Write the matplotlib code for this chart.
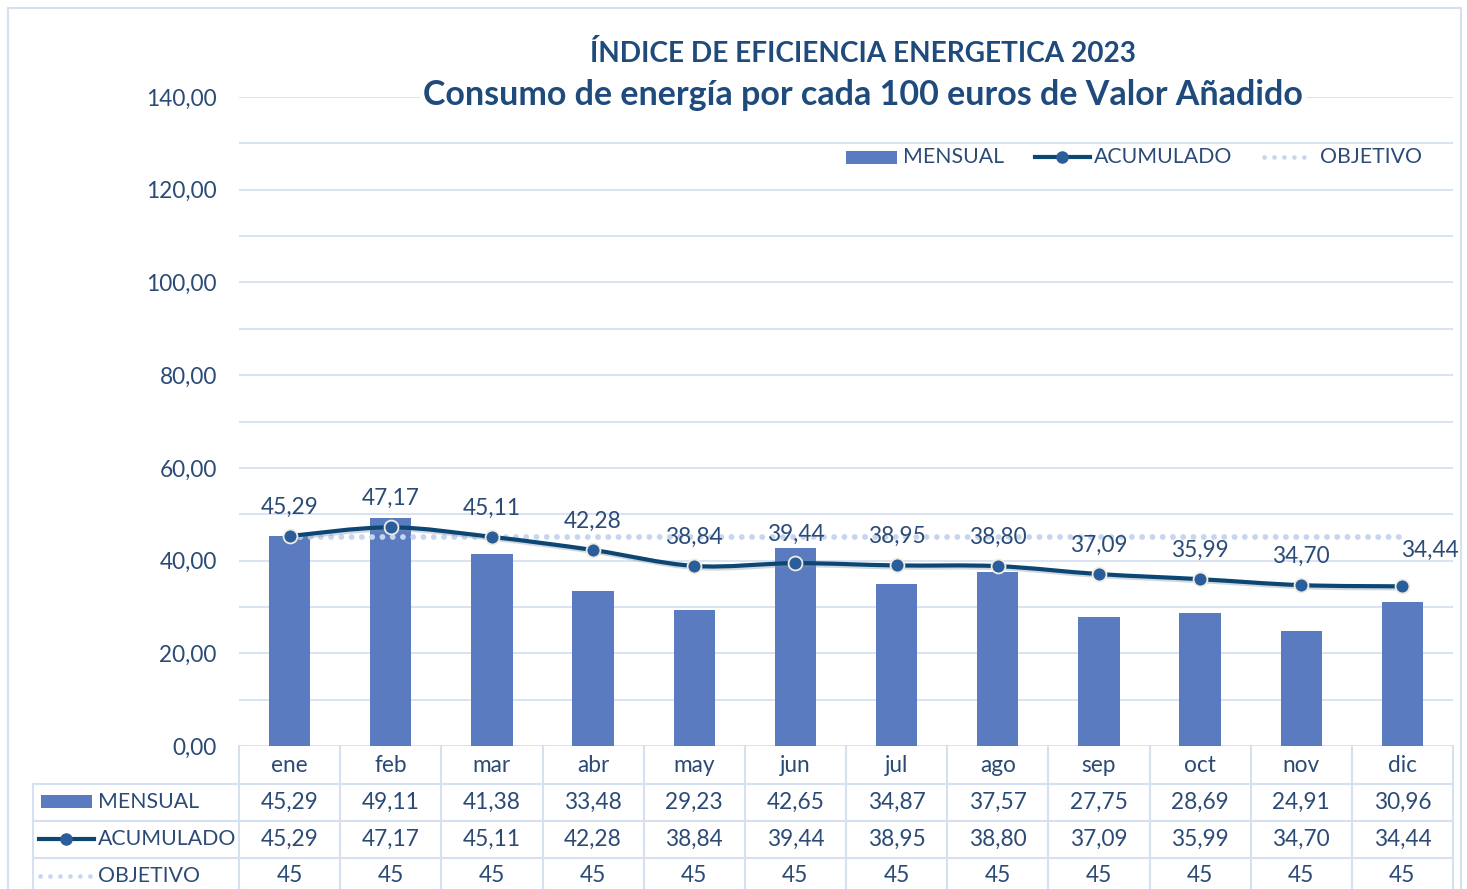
import matplotlib
matplotlib.use("Agg")
import matplotlib.pyplot as plt
from matplotlib.path import Path
from matplotlib.patches import PathPatch, Rectangle
from matplotlib.lines import Line2D
import matplotlib.transforms as mtrans
import matplotlib.patheffects as pe

plt.rcParams['font.family'] = ['Lato', 'DejaVu Sans']

categories = ['ene', 'feb', 'mar', 'abr', 'may', 'jun', 'jul', 'ago', 'sep', 'oct', 'nov', 'dic']
mensual = [45.29, 49.11, 41.38, 33.48, 29.23, 42.65, 34.87, 37.57, 27.75, 28.69, 24.91, 30.96]
acumulado = [45.29, 47.17, 45.11, 42.28, 38.84, 39.44, 38.95, 38.80, 37.09, 35.99, 34.70, 34.44]
objetivo = [45] * 12
yticks = [0, 20, 40, 60, 80, 100, 120, 140]
title1 = 'ÍNDICE DE EFICIENCIA ENERGETICA 2023'
title2 = 'Consumo de energía por cada 100 euros de Valor Añadido'
series_names = ['MENSUAL', 'ACUMULADO', 'OBJETIVO']

W, H = 1467, 889
BAR_C = '#5B7BC0'
LINE_C = '#0C4774'
MARK_C = '#2A5D9C'
OBJ_C = '#C6D6EE'
GRID_C = '#D5E0F1'
TXT_C = '#2B4B76'
TITLE_C = '#1F4A7C'
NUM_FS = 16.3

def fmt(v):
    return f'{v:.2f}'.replace('.', ',')

fig = plt.figure(figsize=(W / 100, H / 100), dpi=100)
fig.patch.set_facecolor('white')

def fx(px):
    return px / W

def fy(py):
    return 1 - py / H

x0, x1, ytop, ybot = 239, 1453, 97, 746
ax = fig.add_axes([fx(x0), fy(ybot), fx(x1) - fx(x0), fy(ytop) - fy(ybot)])
n = len(categories)
xs = list(range(n))
ax.set_xlim(-0.5, n - 0.5)
ax.set_ylim(0, 140)
for s in ax.spines.values():
    s.set_visible(False)
ax.set_xticks([])
ax.set_yticks(yticks)
ax.set_yticklabels([fmt(v) for v in yticks], color=TXT_C, fontsize=NUM_FS)
ax.tick_params(axis='y', length=0, pad=16)
for g in range(0, 141, 10):
    ax.axhline(g, color=GRID_C, lw=1.3, zorder=0)

ax.bar(xs, mensual, width=0.41, color=BAR_C, zorder=2)
ax.plot(xs, objetivo, color=OBJ_C, lw=4.2, ls=(0, (0.01, 1.75)),
        dash_capstyle='round', zorder=3)

# smooth line for ACUMULADO (Bezier through data points)
pts = list(zip(xs, acumulado))
verts = [pts[0]]
codes = [Path.MOVETO]
for i in range(n - 1):
    p0 = pts[i - 1] if i > 0 else pts[i]
    p1 = pts[i]
    p2 = pts[i + 1]
    p3 = pts[i + 2] if i + 2 < n else pts[i + 1]
    c1 = (p1[0] + (p2[0] - p0[0]) / 6, p1[1] + (p2[1] - p0[1]) / 6)
    c2 = (p2[0] - (p3[0] - p1[0]) / 6, p2[1] - (p3[1] - p1[1]) / 6)
    verts += [c1, c2, p2]
    codes += [Path.CURVE4] * 3
ax.add_patch(PathPatch(Path(verts, codes), fill=False, edgecolor=LINE_C, lw=3, zorder=4,
                       capstyle='round', joinstyle='round',
                       path_effects=[pe.SimpleLineShadow(offset=(1.5, -1.5), shadow_color='#7F8FA6',
                                                         alpha=0.35), pe.Normal()]))
ax.plot(xs, acumulado, ls='none', marker='o', ms=10, mfc=MARK_C, mec='#EFEDE0',
        mew=1.3, zorder=5)

for i, v in enumerate(acumulado):
    if i == n - 1:
        ax.annotate(fmt(v), (i, v), xytext=(27, 36), textcoords='offset pixels',
                    ha='center', va='center', color=TXT_C, fontsize=NUM_FS, zorder=6)
    else:
        ax.annotate(fmt(v), (i, v), xytext=(0, 29), textcoords='offset pixels',
                    ha='center', va='center', color=TXT_C, fontsize=NUM_FS, zorder=6)

# Titles
fig.text(fx(863), fy(53), title1, ha='center', va='center', color=TITLE_C,
         fontsize=20.2, fontweight='bold')
fig.text(fx(863), fy(95), title2, ha='center', va='center', color=TITLE_C,
         fontsize=24.5, fontweight='bold',
         bbox=dict(facecolor='white', edgecolor='none', pad=2))

# Legend (manual, figure pixel coords)
ly = fy(157)
fig.add_artist(Rectangle((fx(846), fy(164)), fx(51), fy(151) - fy(164), transform=fig.transFigure,
                         facecolor=BAR_C, edgecolor='none'))
fig.text(fx(903), ly, series_names[0], ha='left', va='center', color=TXT_C, fontsize=15.3)
fig.add_artist(Line2D([fx(1035), fx(1090)], [ly, ly], transform=fig.transFigure, color=LINE_C, lw=3))
fig.add_artist(Line2D([fx(1062)], [ly], transform=fig.transFigure, marker='o', ms=8, mfc=MARK_C,
                      mec=MARK_C, ls='none'))
fig.text(fx(1094), ly, series_names[1], ha='left', va='center', color=TXT_C, fontsize=15.3)
fig.add_artist(Line2D([fx(1264), fx(1313)], [ly, ly], transform=fig.transFigure, color=OBJ_C, lw=3.4,
                      ls=(0, (0.01, 2.1)), dash_capstyle='round'))
fig.text(fx(1320), ly, series_names[2], ha='left', va='center', color=TXT_C, fontsize=15.3)

# Data table
trans = mtrans.blended_transform_factory(ax.transData, fig.transFigure)
col_w = (x1 - x0) / n
row_lines = [784, 821, 858]
for py in row_lines:
    fig.add_artist(Line2D([fx(33), fx(x1)], [fy(py), fy(py)], transform=fig.transFigure,
                          color=GRID_C, lw=1.5))
for k in range(n + 1):
    px = x0 + k * col_w
    fig.add_artist(Line2D([fx(px), fx(px)], [fy(ybot), fy(H + 5)], transform=fig.transFigure,
                          color=GRID_C, lw=1.5))
fig.add_artist(Line2D([fx(33), fx(33)], [fy(784), fy(H + 5)], transform=fig.transFigure,
                      color=GRID_C, lw=1.5))

cat_y, row_ys = fy(766), [fy(802), fy(839), fy(876)]
for i, c in enumerate(categories):
    fig.text(i, cat_y, c, transform=trans, ha='center', va='center', color=TXT_C, fontsize=NUM_FS)
    fig.text(i, row_ys[0], fmt(mensual[i]), transform=trans, ha='center', va='center',
             color=TXT_C, fontsize=NUM_FS)
    fig.text(i, row_ys[1], fmt(acumulado[i]), transform=trans, ha='center', va='center',
             color=TXT_C, fontsize=NUM_FS)
    fig.text(i, row_ys[2], f'{objetivo[i]:d}', transform=trans, ha='center', va='center',
             color=TXT_C, fontsize=NUM_FS)

# table row keys
fig.add_artist(Rectangle((fx(41), fy(808)), fx(51), fy(795) - fy(808), transform=fig.transFigure,
                         facecolor=BAR_C, edgecolor='none'))
fig.add_artist(Line2D([fx(39), fx(94)], [row_ys[1]] * 2, transform=fig.transFigure, color=LINE_C, lw=3))
fig.add_artist(Line2D([fx(66)], [row_ys[1]], transform=fig.transFigure, marker='o', ms=8,
                      mfc=MARK_C, mec=MARK_C, ls='none'))
fig.add_artist(Line2D([fx(40), fx(92)], [row_ys[2]] * 2, transform=fig.transFigure, color=OBJ_C,
                      lw=3.4, ls=(0, (0.01, 2.1)), dash_capstyle='round'))
for name, yy in zip(series_names, row_ys):
    fig.text(fx(98), yy, name, ha='left', va='center', color=TXT_C, fontsize=15.3)

# Outer chart border
fig.add_artist(Rectangle((fx(8), fy(H + 5)), fx(1461) - fx(8), fy(8) - fy(H + 5),
                         transform=fig.transFigure, fill=False, edgecolor=GRID_C, lw=1.5))

fig.savefig('out.png', dpi=100, facecolor='white')
